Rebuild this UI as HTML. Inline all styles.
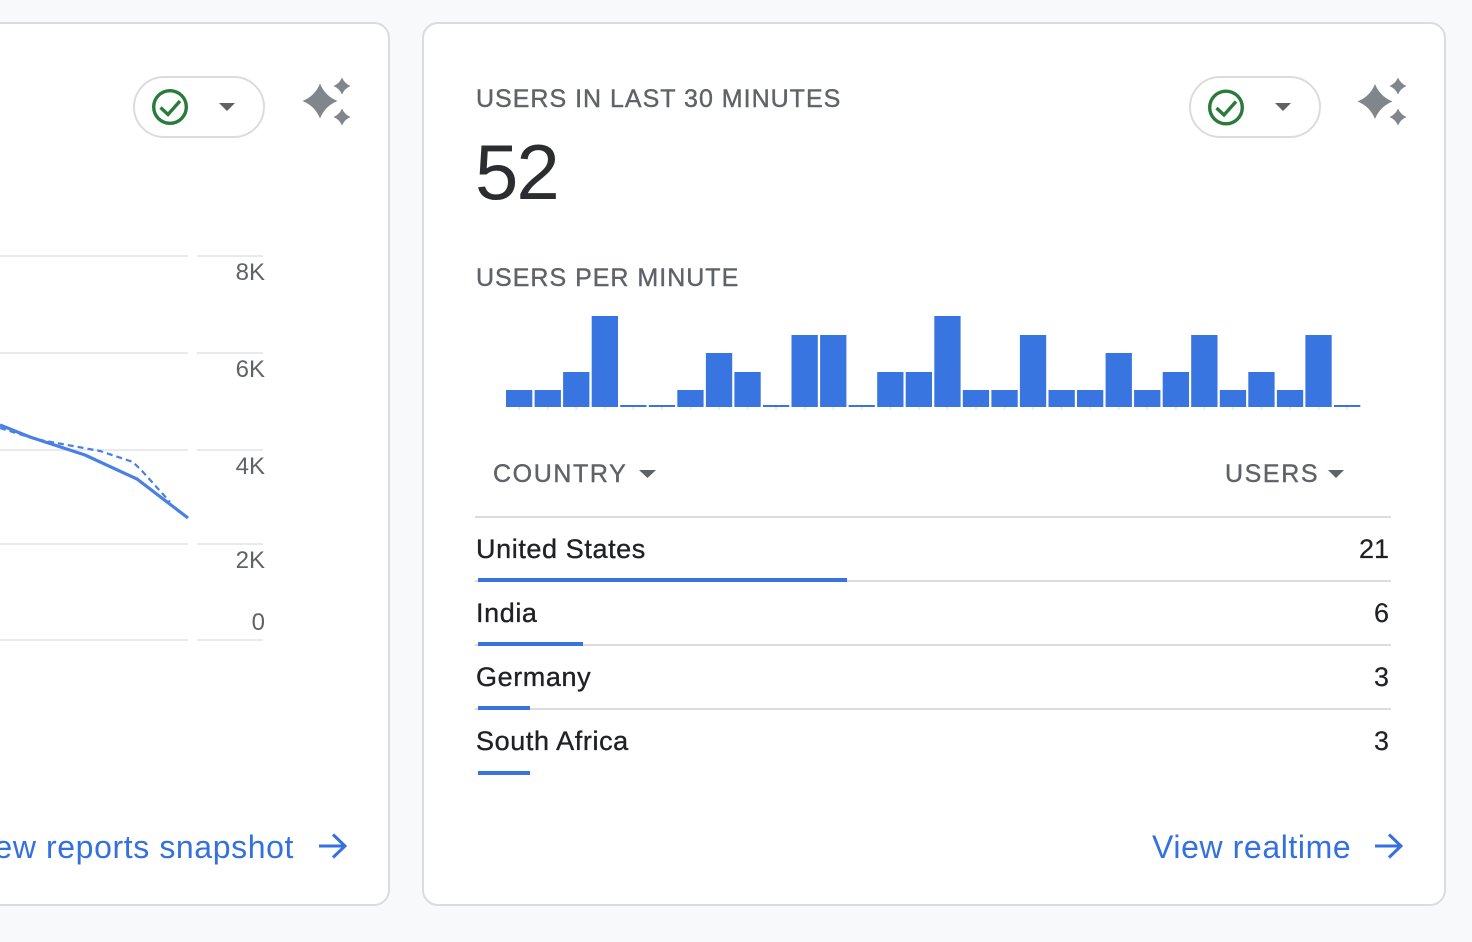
<!DOCTYPE html>
<html>
<head>
<meta charset="utf-8">
<style>
  html, body { margin:0; padding:0; }
  body { width:1472px; height:942px; background:#f8f9fa; position:relative; overflow:hidden;
         font-family:"Liberation Sans", Arial, sans-serif; }
  .card { position:absolute; background:#fff; border:2px solid #dadce0; border-radius:16px; box-sizing:border-box; }
  .t { position:absolute; white-space:nowrap; line-height:1; }
  .lbl { font-size:25px; letter-spacing:1px; color:#5f6368; -webkit-text-stroke:0.4px #5f6368; }
  .hdr { font-size:25px; letter-spacing:1.6px; color:#5f6368; -webkit-text-stroke:0.4px #5f6368; }
  .row { font-size:27px; color:#202124; letter-spacing:0.6px; -webkit-text-stroke:0.35px #202124; }
  .num { font-size:27px; color:#202124; text-align:right; -webkit-text-stroke:0.2px #202124; }
  .ax { font-size:24px; color:#5f6368; text-align:right; }
  .link { font-size:32px; color:#3470de; letter-spacing:0.6px; }
  .grid { position:absolute; height:2px; background:#e8eaed; }
  .hl { position:absolute; height:2px; background:#dadce0; left:475px; width:916px; }
  .bb { position:absolute; height:4px; background:#3873e0; left:478px; }
  svg { position:absolute; left:0; top:0; }
</style>
</head>
<body>

<!-- Left card -->
<div class="card" style="left:-40px; top:22px; width:430px; height:884px;"></div>
<!-- Right card -->
<div class="card" style="left:422px; top:22px; width:1024px; height:884px;"></div>

<!-- Left chart grid -->
<div class="grid" style="left:0; width:188px; top:255px;"></div>
<div class="grid" style="left:197px; width:66px; top:255px;"></div>
<div class="grid" style="left:0; width:188px; top:352px;"></div>
<div class="grid" style="left:197px; width:66px; top:352px;"></div>
<div class="grid" style="left:0; width:188px; top:449px;"></div>
<div class="grid" style="left:197px; width:66px; top:449px;"></div>
<div class="grid" style="left:0; width:188px; top:543px;"></div>
<div class="grid" style="left:197px; width:66px; top:543px;"></div>
<div class="grid" style="left:0; width:188px; top:639px;"></div>
<div class="grid" style="left:197px; width:66px; top:639px;"></div>

<div class="t ax" style="left:195px; width:70px; top:261px;">8K</div>
<div class="t ax" style="left:195px; width:70px; top:358px;">6K</div>
<div class="t ax" style="left:195px; width:70px; top:455px;">4K</div>
<div class="t ax" style="left:195px; width:70px; top:549px;">2K</div>
<div class="t ax" style="left:195px; width:70px; top:611px;">0</div>

<!-- Left link -->
<div class="t link" style="right:1178px; top:831px;">View reports snapshot</div>

<!-- Right card text -->
<div class="t lbl" style="left:476px; top:87px;">USERS IN LAST 30 MINUTES</div>
<div class="t" style="left:475px; top:133px; font-size:78px; color:#2b2d30; letter-spacing:-2px;">52</div>
<div class="t lbl" style="left:476px; top:266px;">USERS PER MINUTE</div>

<div class="t hdr" style="left:493px; top:462px;">COUNTRY</div>
<div class="t hdr" style="left:1225px; top:462px;">USERS</div>

<div class="hl" style="top:516px;"></div>
<div class="hl" style="top:580px;"></div>
<div class="hl" style="top:644px;"></div>
<div class="hl" style="top:708px;"></div>

<div class="bb" style="top:578px; width:369px;"></div>
<div class="bb" style="top:642px; width:105px;"></div>
<div class="bb" style="top:706px; width:52px;"></div>
<div class="bb" style="top:771px; width:52px;"></div>

<div class="t row" style="left:476px; top:536px;">United States</div>
<div class="t row" style="left:476px; top:600px;">India</div>
<div class="t row" style="left:476px; top:664px;">Germany</div>
<div class="t row" style="left:476px; top:728px;">South Africa</div>

<div class="t num" style="left:1289px; width:100px; top:536px;">21</div>
<div class="t num" style="left:1289px; width:100px; top:600px;">6</div>
<div class="t num" style="left:1289px; width:100px; top:664px;">3</div>
<div class="t num" style="left:1289px; width:100px; top:728px;">3</div>

<div class="t link" style="left:1152px; top:831px;">View realtime</div>

<svg width="1472" height="942" viewBox="0 0 1472 942">
  <!-- left line chart -->
  <polyline points="0,428 35,439 100,451 133,462 143,472 170,502" fill="none" stroke="#4a80e6" stroke-width="2.2" stroke-dasharray="6,4"/>
  <polyline points="0,425 30,437 85,455 137,479 188,518" fill="none" stroke="#4a80e6" stroke-width="3.2" stroke-linejoin="round"/>

  <!-- Pills -->
  <rect x="134" y="77" width="130" height="60" rx="30" fill="#fff" stroke="#dadce0" stroke-width="2"/>
  <rect x="1190" y="77" width="130" height="60" rx="30" fill="#fff" stroke="#dadce0" stroke-width="2"/>

  <!-- check circles -->
  <g fill="none" stroke="#2a7a3b" stroke-width="3.4" stroke-linecap="butt" stroke-linejoin="miter">
    <circle cx="170" cy="107" r="16.3"/>
    <polyline points="160.5,107.5 168,114.5 180,101"/>
    <circle cx="1226" cy="107.5" r="16.3"/>
    <polyline points="1216.5,108 1224,115 1236,101.5"/>
  </g>

  <!-- dropdown triangles -->
  <g fill="#5f6368">
    <polygon points="219,103 235,103 227,111"/>
    <polygon points="1275,103 1291,103 1283,111"/>
    <polygon points="639,470 656,470 647.5,478"/>
    <polygon points="1328,470 1344,470 1336,478"/>
  </g>

  <!-- sparkles -->
  <g fill="#80868b">
    <path d="M320,83.5 Q325,96 337.5,101 Q325,106 320,118.5 Q315,106 302.5,101 Q315,96 320,83.5 Z"/>
    <path d="M342,77.5 Q344.5,83.5 350.5,86 Q344.5,88.5 342,94.5 Q339.5,88.5 333.5,86 Q339.5,83.5 342,77.5 Z"/>
    <path d="M342,108.5 Q344.5,114.5 350.5,117 Q344.5,119.5 342,125.5 Q339.5,119.5 333.5,117 Q339.5,114.5 342,108.5 Z"/>
    <path d="M1375,84 Q1380,96.5 1392.5,101.5 Q1380,106.5 1375,119 Q1370,106.5 1357.5,101.5 Q1370,96.5 1375,84 Z"/>
    <path d="M1398,77.5 Q1400.5,83.5 1406.5,86 Q1400.5,88.5 1398,94.5 Q1395.5,88.5 1389.5,86 Q1395.5,83.5 1398,77.5 Z"/>
    <path d="M1398,108.5 Q1400.5,114.5 1406.5,117 Q1400.5,119.5 1398,125.5 Q1395.5,119.5 1389.5,117 Q1395.5,114.5 1398,108.5 Z"/>
  </g>

  <!-- arrows -->
  <g fill="none" stroke="#3470de" stroke-width="3" stroke-linecap="butt">
    <line x1="319" y1="846" x2="344" y2="846"/>
    <polyline points="333,834.5 345,846 333,857.5"/>
    <line x1="1375" y1="846" x2="1400" y2="846"/>
    <polyline points="1389,834.5 1401,846 1389,857.5"/>
  </g>

  <!-- bar ticks -->
  <g fill="#e8eaed">
    <rect x="518.2" y="407" width="2" height="3"/><rect x="546.7" y="407" width="2" height="3"/><rect x="575.3" y="407" width="2" height="3"/><rect x="603.8" y="407" width="2" height="3"/><rect x="632.4" y="407" width="2" height="3"/><rect x="660.9" y="407" width="2" height="3"/><rect x="689.5" y="407" width="2" height="3"/><rect x="718" y="407" width="2" height="3"/><rect x="746.6" y="407" width="2" height="3"/><rect x="775.1" y="407" width="2" height="3"/><rect x="803.7" y="407" width="2" height="3"/><rect x="832.2" y="407" width="2" height="3"/><rect x="860.8" y="407" width="2" height="3"/><rect x="889.3" y="407" width="2" height="3"/><rect x="917.9" y="407" width="2" height="3"/><rect x="946.4" y="407" width="2" height="3"/><rect x="975" y="407" width="2" height="3"/><rect x="1003.5" y="407" width="2" height="3"/><rect x="1032.1" y="407" width="2" height="3"/><rect x="1060.6" y="407" width="2" height="3"/><rect x="1089.2" y="407" width="2" height="3"/><rect x="1117.7" y="407" width="2" height="3"/><rect x="1146.3" y="407" width="2" height="3"/><rect x="1174.8" y="407" width="2" height="3"/><rect x="1203.4" y="407" width="2" height="3"/><rect x="1231.9" y="407" width="2" height="3"/><rect x="1260.5" y="407" width="2" height="3"/><rect x="1289" y="407" width="2" height="3"/><rect x="1317.6" y="407" width="2" height="3"/><rect x="1346.1" y="407" width="2" height="3"/>
  </g>

  <!-- bars -->
  <g fill="#3975e0">
    <rect x="506.0" y="390" width="26.3" height="17"/>
    <rect x="534.6" y="390" width="26.3" height="17"/>
    <rect x="563.1" y="372" width="26.3" height="35"/>
    <rect x="591.7" y="316" width="26.3" height="91"/>
    <rect x="620.2" y="405" width="26.3" height="2"/>
    <rect x="648.8" y="405" width="26.3" height="2"/>
    <rect x="677.3" y="390" width="26.3" height="17"/>
    <rect x="705.9" y="353" width="26.3" height="54"/>
    <rect x="734.4" y="372" width="26.3" height="35"/>
    <rect x="763.0" y="405" width="26.3" height="2"/>
    <rect x="791.5" y="335" width="26.3" height="72"/>
    <rect x="820.1" y="335" width="26.3" height="72"/>
    <rect x="848.6" y="405" width="26.3" height="2"/>
    <rect x="877.2" y="372" width="26.3" height="35"/>
    <rect x="905.7" y="372" width="26.3" height="35"/>
    <rect x="934.3" y="316" width="26.3" height="91"/>
    <rect x="962.8" y="390" width="26.3" height="17"/>
    <rect x="991.4" y="390" width="26.3" height="17"/>
    <rect x="1019.9" y="335" width="26.3" height="72"/>
    <rect x="1048.5" y="390" width="26.3" height="17"/>
    <rect x="1077.0" y="390" width="26.3" height="17"/>
    <rect x="1105.6" y="353" width="26.3" height="54"/>
    <rect x="1134.1" y="390" width="26.3" height="17"/>
    <rect x="1162.7" y="372" width="26.3" height="35"/>
    <rect x="1191.2" y="335" width="26.3" height="72"/>
    <rect x="1219.8" y="390" width="26.3" height="17"/>
    <rect x="1248.3" y="372" width="26.3" height="35"/>
    <rect x="1276.9" y="390" width="26.3" height="17"/>
    <rect x="1305.4" y="335" width="26.3" height="72"/>
    <rect x="1334.0" y="405" width="26.3" height="2"/>
  </g>
</svg>

</body>
</html>
